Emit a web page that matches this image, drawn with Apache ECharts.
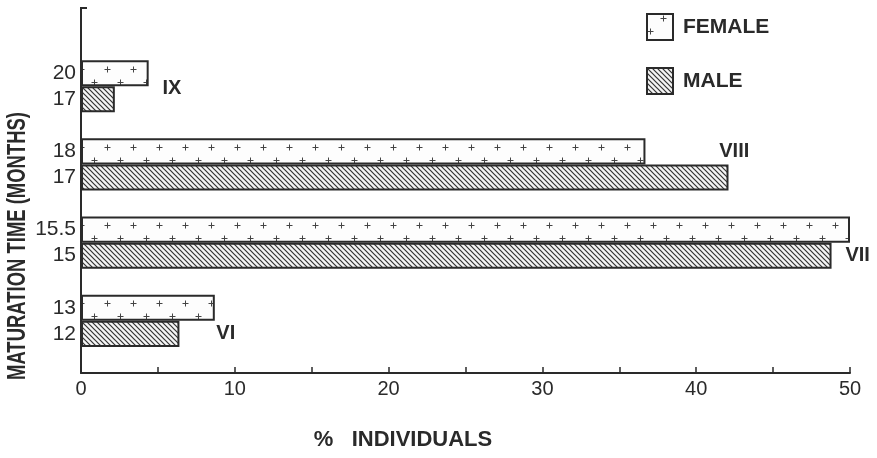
<!DOCTYPE html>
<html>
<head>
<meta charset="utf-8">
<script src="https://cdn.jsdelivr.net/npm/echarts@6/dist/echarts.min.js"></script>
<style>
html,body{margin:0;padding:0;background:#fff;}
#chart{width:877px;height:458px;}
</style>
</head>
<body>
<div id="chart"></div>
<script>
// ---- data ----
const groups = ['VI', 'VII', 'VIII', 'IX'];
const femaleTime = ['13', '15.5', '18', '20'];   // maturation time (months)
const maleTime = ['12', '15', '17', '17'];
const femalePct = [8.7, 50.0, 36.7, 4.4];         // % individuals
const malePct = [6.4, 48.8, 42.1, 2.2];
const xTicks = [0, 10, 20, 30, 40, 50];
// anchor of each group's roman numeral (x in % units)
const groupLabelX = [8.8, 49.7, 41.5, 5.3];

const INK = '#2a2a2a';

// ---- row layout: for each group a gap row, then male row, then female row ----
const rowKeys = [];
const rowText = {};
groups.forEach((g, i) => {
  rowKeys.push('gap-' + g); rowText['gap-' + g] = '';
  rowKeys.push(g + '-M'); rowText[g + '-M'] = maleTime[i];
  rowKeys.push(g + '-F'); rowText[g + '-F'] = femaleTime[i];
});
rowKeys.push('gap-top1', 'gap-top2');
rowText['gap-top1'] = ''; rowText['gap-top2'] = '';

const femaleData = rowKeys.map(k => {
  const i = groups.findIndex(g => k === g + '-F');
  return i >= 0 ? femalePct[i] : '-';
});
const maleData = rowKeys.map(k => {
  const i = groups.findIndex(g => k === g + '-M');
  return i >= 0 ? malePct[i] : '-';
});

// ---- fill patterns ----
function hatchPattern() {
  const c = document.createElement('canvas');
  c.width = 5; c.height = 5;
  const x = c.getContext('2d');
  x.fillStyle = '#f4f4f4'; x.fillRect(0, 0, 5, 5);
  x.strokeStyle = '#333'; x.lineWidth = 1.2;
  x.beginPath();
  x.moveTo(-1, -1); x.lineTo(6, 6);
  x.moveTo(-1, 4); x.lineTo(1, 6);
  x.moveTo(4, -1); x.lineTo(6, 1);
  x.stroke();
  return c;
}
function plusPattern() {
  const c = document.createElement('canvas');
  c.width = 26; c.height = 26;
  const x = c.getContext('2d');
  x.fillStyle = '#fdfdfd'; x.fillRect(0, 0, 26, 26);
  x.strokeStyle = '#444'; x.lineWidth = 1;
  function plus(px, py) {
    x.beginPath();
    x.moveTo(px - 2.5, py + 0.5); x.lineTo(px + 3.5, py + 0.5);
    x.moveTo(px + 0.5, py - 2.5); x.lineTo(px + 0.5, py + 3.5);
    x.stroke();
  }
  plus(3, 17); plus(16, 4);
  return c;
}

const labelData = groups.map((g, i) => {
  let row = g + '-M';
  let offset = [0, 0];
  if (g === 'VIII') row = g + '-F';
  if (g === 'IX') offset = [0, -11];
  return { value: [groupLabelX[i], row], name: g, label: { offset: offset } };
});

const chart = echarts.init(document.getElementById('chart'));
chart.setOption({
  backgroundColor: '#ffffff',
  animation: false,
  grid: { left: 81, right: 27, top: 8, bottom: 85, containLabel: false },
  legend: {
    left: 641, top: 8, orient: 'vertical',
    itemWidth: 26, itemHeight: 26, itemGap: 26,
    icon: 'rect',
    data: ['FEMALE', 'MALE'],
    selectedMode: false,
    textStyle: {
      fontFamily: '"Liberation Sans", Arial, sans-serif',
      fontWeight: 'bold', fontSize: 21, color: INK, padding: [0, 0, 0, 5]
    }
  },
  xAxis: {
    type: 'value', min: 0, max: 50, interval: 5,
    splitLine: { show: false },
    axisLine: { show: true, lineStyle: { color: INK, width: 2 } },
    axisTick: { show: true, inside: true, length: 6, lineStyle: { color: INK, width: 1.5 } },
    axisLabel: {
      color: INK, fontSize: 20, margin: 6,
      fontFamily: '"Liberation Sans", Arial, sans-serif',
      formatter: v => (xTicks.indexOf(v) >= 0 ? String(v) : '')
    }
  },
  yAxis: {
    type: 'category', data: rowKeys,
    axisLine: { show: true, lineStyle: { color: INK, width: 2 } },
    axisTick: { show: false },
    axisLabel: {
      color: INK, fontSize: 21, margin: 5, interval: 0,
      fontFamily: '"Liberation Sans", Arial, sans-serif',
      padding: [10, 0, 0, 0],
      formatter: v => rowText[v]
    }
  },
  series: [
    {
      name: 'FEMALE', type: 'bar', data: femaleData,
      barWidth: '100%', barGap: '-100%',
      itemStyle: { color: { image: plusPattern(), repeat: 'repeat' }, borderColor: INK, borderWidth: 2 }
    },
    {
      name: 'MALE', type: 'bar', data: maleData,
      barWidth: '100%', barGap: '-100%',
      itemStyle: { color: { image: hatchPattern(), repeat: 'repeat' }, borderColor: INK, borderWidth: 2 }
    },
    {
      name: 'groups', type: 'scatter', data: labelData,
      symbolSize: 0, silent: true,
      itemStyle: { opacity: 1 },
      label: {
        show: true, position: 'right', distance: 0,
        formatter: p => p.name,
        color: INK, fontSize: 20, fontWeight: 'bold',
        fontFamily: '"Liberation Sans", Arial, sans-serif'
      }
    }
  ],
  graphic: [
    {
      type: 'text',
      rotation: Math.PI / 2,
      scaleX: 0.71,
      x: 18, y: 246,
      style: {
        text: 'MATURATION TIME (MONTHS)',
        fill: INK, fontSize: 26, fontWeight: 'bold',
        fontFamily: '"Liberation Sans", Arial, sans-serif',
        textAlign: 'center', textVerticalAlign: 'middle'
      }
    },
    {
      type: 'text', x: 403, y: 440,
      style: {
        text: '%   INDIVIDUALS',
        fill: INK, fontSize: 22, fontWeight: 'bold',
        fontFamily: '"Liberation Sans", Arial, sans-serif',
        textAlign: 'center', textVerticalAlign: 'middle'
      }
    },
    {
      type: 'line',
      shape: { x1: 80, y1: 8, x2: 87, y2: 8 },
      style: { stroke: INK, lineWidth: 2 }
    }
  ]
});
</script>
</body>
</html>
